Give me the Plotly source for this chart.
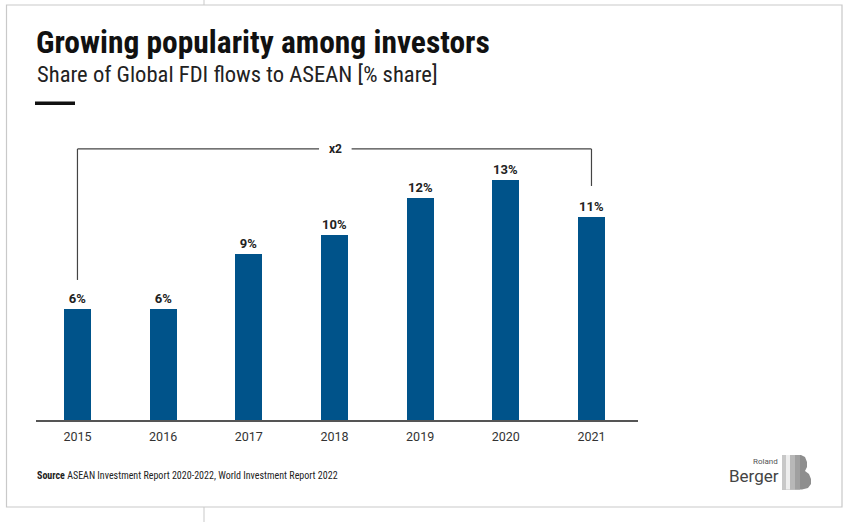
import plotly.graph_objects as go

years = ["2015", "2016", "2017", "2018", "2019", "2020", "2021"]
share = [6, 6, 9, 10, 12, 13, 11]
value_labels = [f"{v}%" for v in share]
multiplier_label = "x2"

W, H = 848, 522
L, R, T, B = 36, 638, 140, 420  # plot area in pixels

def px(x):
    return (x - L) / (R - L)

def py(y):
    return (B - y) / (B - T)

BAR = "#00538a"
TXT = "#222222"
NARROW = "Liberation Sans Narrow, Roboto Condensed, Arial Narrow, sans-serif"

fig = go.Figure(go.Bar(
    x=list(range(len(years))), y=share,
    marker=dict(color=BAR, line=dict(width=0)),
    width=0.315,
    text=[f"<b>{t}</b>" for t in value_labels],
    textposition="outside",
    textfont=dict(family="Roboto, Arial, sans-serif", size=13, color=TXT),
    cliponaxis=False,
    hoverinfo="skip",
))

ymax = (B - T) / 18.5

shapes = []
# bracket x2 : from 2015 to 2021
top_y = max(share) + 1.65
left_bottom = share[0] + 1.57
right_bottom = share[-1] + 1.65
gap_half = 0.19
mid = 3.01
lc = "#444444"
shapes += [
    dict(type="line", xref="x", yref="y", x0=0, x1=0, y0=left_bottom, y1=top_y, line=dict(color=lc, width=1.2)),
    dict(type="line", xref="x", yref="y", x0=0, x1=mid - gap_half, y0=top_y, y1=top_y, line=dict(color=lc, width=1.2)),
    dict(type="line", xref="x", yref="y", x0=mid + gap_half, x1=6, y0=top_y, y1=top_y, line=dict(color=lc, width=1.2)),
    dict(type="line", xref="x", yref="y", x0=6, x1=6, y0=right_bottom, y1=top_y, line=dict(color=lc, width=1.2)),
]

# frame
fc = "#c9c9c9"
shapes.append(dict(type="rect", xref="paper", yref="paper", x0=px(6.5), x1=px(842), y0=py(5), y1=py(507),
                   line=dict(color=fc, width=1.2), fillcolor="rgba(0,0,0,0)", layer="below"))
shapes.append(dict(type="line", xref="paper", yref="paper", x0=px(204), x1=px(204), y0=py(0), y1=py(5), line=dict(color=fc, width=1)))
shapes.append(dict(type="line", xref="paper", yref="paper", x0=px(204), x1=px(204), y0=py(507), y1=py(522), line=dict(color=fc, width=1)))
# black rule under subtitle
shapes.append(dict(type="rect", xref="paper", yref="paper", x0=px(35), x1=px(75), y0=py(101.5), y1=py(105),
                   line=dict(width=0), fillcolor="#111111"))

def path(points):
    return "M " + " L ".join(f"{px(x):.5f},{py(y):.5f}" for x, y in points) + " Z"

# logo B
shapes.append(dict(type="path", xref="paper", yref="paper",
                   path=path([(782, 455), (801, 455), (805, 457), (807, 462), (807, 467), (805, 471),
                              (809, 474), (811, 479), (811, 484), (808, 488), (802, 489.5), (782, 489.5)]),
                   line=dict(width=0), fillcolor="#8e8e8e"))
for x0, x1, col in [(782, 786, "#c8c8c8"), (786, 790, "#eeeeee"), (790, 795, "#b8b8b8"), (795, 800, "#a0a0a0")]:
    shapes.append(dict(type="rect", xref="paper", yref="paper", x0=px(x0), x1=px(x1), y0=py(489.5), y1=py(455),
                       line=dict(width=0), fillcolor=col))

annotations = [
    dict(text="<b>Growing popularity among investors</b>", x=px(34), y=py(43), xref="paper", yref="paper",
         xanchor="left", yanchor="middle", showarrow=False,
         font=dict(family=NARROW, size=31.5, color="#111111")),
    dict(text="Share of Global FDI flows to ASEAN [% share]", x=px(35), y=py(75), xref="paper", yref="paper",
         xanchor="left", yanchor="middle", showarrow=False,
         font=dict(family=NARROW, size=22.6, color="#222222")),
    dict(text=f"<b>{multiplier_label}</b>", x=mid, y=top_y, xref="x", yref="y",
         xanchor="center", yanchor="middle", showarrow=False,
         font=dict(family="Roboto, Arial, sans-serif", size=12, color=TXT)),
    dict(text="<b>Source</b> ASEAN Investment Report 2020-2022, World Investment Report 2022", x=px(35), y=py(475),
         xref="paper", yref="paper", xanchor="left", yanchor="middle", showarrow=False,
         font=dict(family=NARROW, size=10, color="#222222")),
    dict(text="Berger", x=px(781), y=py(476), xref="paper", yref="paper", xanchor="right", yanchor="middle",
         showarrow=False, font=dict(family="Roboto, Arial, sans-serif", size=17, color="#444444")),
    dict(text="Roland", x=px(780), y=py(461), xref="paper", yref="paper", xanchor="right", yanchor="middle",
         showarrow=False, font=dict(family="Roboto, Arial, sans-serif", size=8, color="#555555")),
]

fig.update_layout(
    width=W, height=H,
    margin=dict(l=L, r=W - R, t=T, b=H - B, pad=0),
    paper_bgcolor="white", plot_bgcolor="white",
    showlegend=False,
    bargap=0,
    shapes=shapes,
    annotations=annotations,
    xaxis=dict(
        tickmode="array", tickvals=list(range(len(years))), ticktext=years,
        range=[-0.484, 6.543], showline=True, linecolor="#555555", linewidth=1.5,
        showgrid=False, zeroline=False, ticks="", fixedrange=True, ticklabelstandoff=4,
        tickfont=dict(family="Roboto, Arial, sans-serif", size=12.5, color="#333333"),
    ),
    yaxis=dict(range=[0, ymax], visible=False, showgrid=False, zeroline=False, fixedrange=True),
)

fig.write_html("out.html", config={"displayModeBar": False},
               post_script="document.body.style.margin='0';document.body.style.overflow='hidden';")
